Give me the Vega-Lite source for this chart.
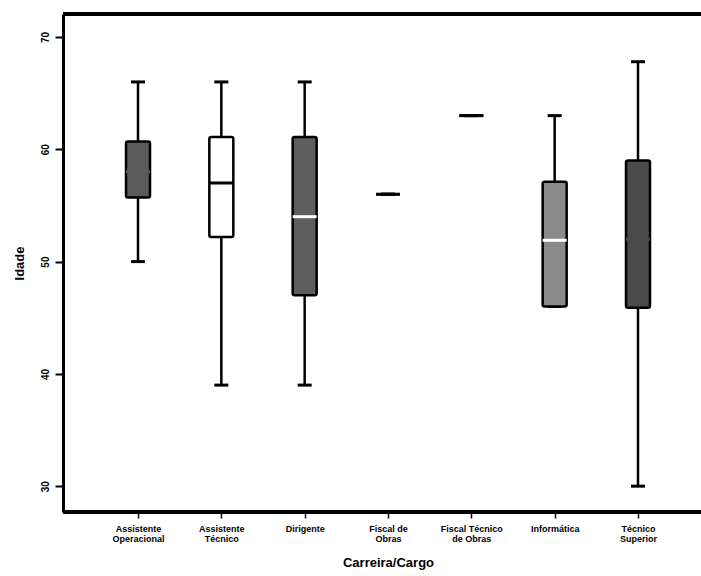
{
  "$schema": "https://vega.github.io/schema/vega-lite/v6.json",
  "autosize": "none",
  "padding": {"left": 63, "top": 14, "right": 0, "bottom": 64},
  "width": 638,
  "height": 498,
  "background": "white",
  "config": {
    "view": {"stroke": null},
    "font": "Liberation Sans",
    "tick": {"opacity": 1}
  },
  "data": {
    "values": [
      {"cargo": "Assistente Operacional", "min": 50, "q1": 55.7, "median": 58, "q3": 60.7, "max": 66},
      {"cargo": "Assistente Técnico", "min": 39, "q1": 52.2, "median": 57, "q3": 61.1, "max": 66},
      {"cargo": "Dirigente", "min": 39, "q1": 47, "median": 54, "q3": 61.1, "max": 66},
      {"cargo": "Fiscal de Obras", "min": 56, "q1": 56, "median": 56, "q3": 56, "max": 56},
      {"cargo": "Fiscal Técnico de Obras", "min": 63, "q1": 63, "median": 63, "q3": 63, "max": 63},
      {"cargo": "Informática", "min": 46, "q1": 46, "median": 51.9, "q3": 57.1, "max": 63},
      {"cargo": "Técnico Superior", "min": 30, "q1": 45.9, "median": 52, "q3": 59, "max": 67.8}
    ]
  },
  "layer": [
    {
      "mark": {"type": "rule", "strokeWidth": 3, "color": "black"},
      "encoding": {"y": {"datum": 72.05, "type": "quantitative"}}
    },
    {
      "mark": {"type": "rule", "strokeWidth": 3, "color": "black"},
      "encoding": {"y": {"datum": 27.7, "type": "quantitative"}}
    },
    {
      "mark": {"type": "rule", "strokeWidth": 2.5, "color": "black"},
      "encoding": {
        "x": {
          "field": "cargo",
          "type": "nominal",
          "sort": null,
          "scale": {"type": "point", "range": [75, 575], "padding": 0},
          "axis": {
            "title": "Carreira/Cargo",
            "titleFontSize": 13,
            "titleFontWeight": "bold",
            "titleColor": "black",
            "titlePadding": 13,
            "labelAngle": 0,
            "labelFontSize": 9,
            "labelFontWeight": "bold",
            "labelColor": "black",
            "labelLineHeight": 10,
            "labelPadding": 6,
            "labelExpr": "datum.value == 'Assistente Operacional' ? ['Assistente','Operacional'] : datum.value == 'Assistente Técnico' ? ['Assistente','Técnico'] : datum.value == 'Fiscal de Obras' ? ['Fiscal de','Obras'] : datum.value == 'Fiscal Técnico de Obras' ? ['Fiscal Técnico','de Obras'] : datum.value == 'Técnico Superior' ? ['Técnico','Superior'] : datum.value",
            "domain": false,
            "tickColor": "black",
            "tickSize": 6,
            "tickWidth": 1.5,
            "grid": false
          }
        },
        "y": {
          "field": "min",
          "type": "quantitative",
          "scale": {"domain": [27.7, 72.05], "nice": false, "zero": false},
          "axis": {
            "title": "Idade",
            "titleFontSize": 13,
            "titleFontWeight": "bold",
            "titleColor": "black",
            "titlePadding": 14,
            "values": [30, 40, 50, 60, 70],
            "labelAngle": 270,
            "labelAlign": "center",
            "labelBaseline": "bottom",
            "labelFontSize": 10,
            "labelFontWeight": "bold",
            "labelColor": "black",
            "labelPadding": 5,
            "domainColor": "black",
            "domainWidth": 3,
            "tickColor": "black",
            "tickSize": 8,
            "tickWidth": 2,
            "grid": false
          }
        },
        "y2": {"field": "max"}
      }
    },
    {
      "mark": {"type": "tick", "size": 14, "thickness": 3, "color": "black"},
      "encoding": {
        "x": {"field": "cargo", "type": "nominal", "sort": null},
        "y": {"field": "min", "type": "quantitative"}
      }
    },
    {
      "mark": {"type": "tick", "size": 14, "thickness": 3, "color": "black"},
      "encoding": {
        "x": {"field": "cargo", "type": "nominal", "sort": null},
        "y": {"field": "max", "type": "quantitative"}
      }
    },
    {
      "mark": {"type": "bar", "size": 24, "stroke": "black", "strokeWidth": 2.5, "cornerRadius": 2},
      "encoding": {
        "x": {"field": "cargo", "type": "nominal", "sort": null},
        "y": {"field": "q1", "type": "quantitative"},
        "y2": {"field": "q3"},
        "color": {
          "field": "cargo",
          "type": "nominal",
          "legend": null,
          "scale": {
            "domain": ["Assistente Operacional", "Assistente Técnico", "Dirigente", "Fiscal de Obras", "Fiscal Técnico de Obras", "Informática", "Técnico Superior"],
            "range": ["#5a5a5a", "#ffffff", "#5e5e5e", "#000000", "#000000", "#8a8a8a", "#4a4a4a"]
          }
        }
      }
    },
    {
      "mark": {"type": "tick", "size": 24, "thickness": 3},
      "encoding": {
        "x": {"field": "cargo", "type": "nominal", "sort": null},
        "y": {"field": "median", "type": "quantitative"},
        "color": {
          "field": "cargo",
          "type": "nominal",
          "legend": null,
          "scale": {
            "domain": ["Assistente Operacional", "Assistente Técnico", "Dirigente", "Fiscal de Obras", "Fiscal Técnico de Obras", "Informática", "Técnico Superior"],
            "range": ["#5a5a5a", "#000000", "#ffffff", "#000000", "#000000", "#ffffff", "#4a4a4a"]
          }
        }
      }
    }
  ],
  "resolve": {"scale": {"color": "independent"}}
}
